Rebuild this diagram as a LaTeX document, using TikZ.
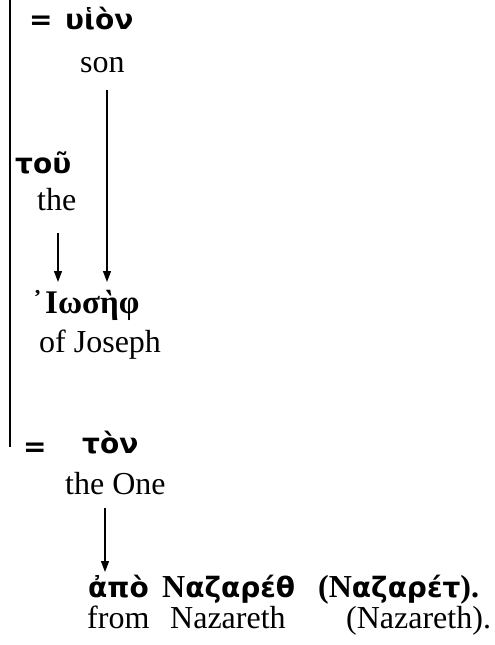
\documentclass[tikz,border=0pt]{standalone}
\usepackage{fontspec}
\setmainfont{Liberation Serif}
\newfontfamily\grk[Script=Greek]{DejaVu Sans}
\newfontfamily\grs[Script=Greek]{Liberation Serif}
\newcommand{\sercap}[1]{{\fontsize{32}{36}\selectfont\grs\bfseries #1}}
\usetikzlibrary{arrows.meta}
\begin{document}
\begin{tikzpicture}[x=1pt,y=-1pt,
  en/.style={anchor=base west, inner sep=0pt, font=\fontsize{32}{36}\selectfont},
  gr/.style={anchor=base west, inner sep=0pt, font=\fontsize{28}{32}\selectfont\grk\bfseries},
  gs/.style={anchor=base west, inner sep=0pt, font=\fontsize{33}{38}\selectfont\grs\bfseries},
  arr/.style={line width=1.3pt, -{Triangle[length=11pt,width=8pt]}},
  bar/.style={line width=1.3pt}]
\useasboundingbox (0,0) rectangle (495,645);
% left bar
\coordinate (bt) at (10,0);
\coordinate (bb) at (10,447);
\draw[bar] (bt) -- (bb);
% top group
\node[gr] (eq1) at (29,29) {=};
\node[gr] (huion) at (65,29) {υἱὸν};
\node[en] (son) at (80,72) {son};
\node[gr] (tou) at (15,173) {τοῦ};
\node[en] (the1) at (37,210) {the};
\node[gs] (apos) at (32,313) {᾿};
\node[gs] (ios) at (45,313) {Ιωσὴφ};
\node[en] (ofjos) at (39,352) {of Joseph};
% lower group
\node[gr] (eq2) at (23,456) {=};
\node[gr] (ton) at (82,453) {τὸν};
\node[en] (theone) at (65,494) {the One};
\node[gr] (apo) at (88,597) {ἀπὸ};
\node[gr] (naz) at (162,597) {\sercap{Ν}αζαρέθ};
\node[gr] (naz2) at (318,597) {\sercap{(Ν}αζαρέτ\sercap{).}};
\node[en] (from) at (87,628) {from};
\node[en] (nazareth) at (170,628) {Nazareth};
\node[en] (nazareth2) at (346,628) {(Nazareth).};
% arrows
\coordinate (s1) at (107,90);
\coordinate (e1) at (107,282);
\coordinate (s2) at (58,233);
\coordinate (e2) at (58,282);
\coordinate (s3) at (105,508);
\coordinate (e3) at (105,572);
\draw[arr] (s1) -- (e1);
\draw[arr] (s2) -- (e2);
\draw[arr] (s3) -- (e3);
\end{tikzpicture}
\end{document}
